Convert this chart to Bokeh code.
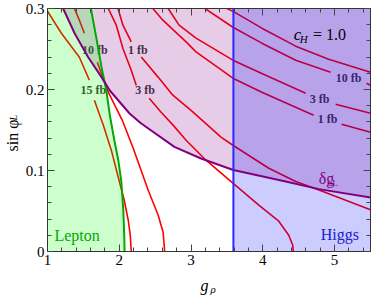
import numpy as np
from bokeh.plotting import figure
from bokeh.models import ColumnDataSource, FixedTicker, LinearAxis, Label, Range1d
from bokeh.core.properties import value
from bokeh.embed import file_html
from bokeh.resources import INLINE

nan = float("nan")

# ---------------- data ----------------
X_MIN, X_MAX = 1.0, 5.5
Y_MIN, Y_MAX = 0.0, 0.3
X_TICKS = [1, 2, 3, 4, 5]
Y_TICKS = [0.0, 0.1, 0.2, 0.3]
Y_TICK_LABELS = ["0", "0.1", "0.2", "0.3"]

# Higgs bound (vertical)
HIGGS_G = 3.59

# Lepton bound (green)
lepton_x = [1.604, 1.681, 1.750, 1.819, 1.868, 1.931, 1.986, 2.028, 2.056, 2.069, 2.074]
lepton_y = [0.300, 0.2634, 0.2288, 0.1991, 0.1683, 0.1374, 0.1127, 0.0868, 0.0510, 0.0201, 0.0]

# delta g_uL bound (purple)
dg_x = [1.218, 1.379, 1.565, 1.750, 1.865, 2.143, 2.306, 2.768, 3.139, 3.588, 4.319, 4.782, 5.500]
dg_y = [0.300, 0.2691, 0.2402, 0.2156, 0.1991, 0.1704, 0.1580, 0.1291, 0.1148, 0.1007, 0.0864, 0.0770, 0.0667]

# cross-section contours, left family (nan = label gap)
c15_x = [1.0, 1.194, 1.444, 1.583, nan, 1.653, 1.778, 1.889, 2.0, 2.069, 2.125, 2.153, 2.167]
c15_y = [0.2967, 0.2695, 0.2398, 0.2115, nan, 0.1868, 0.1559, 0.1251, 0.0868, 0.0633, 0.0386, 0.0201, 0.0]

c10a_x = [1.375, 1.444, 1.514, nan, 1.694, 1.847, 2.042, 2.194, 2.403, 2.542, 2.611, 2.632]
c10a_y = [0.300, 0.2856, 0.2695, nan, 0.2337, 0.1967, 0.1620, 0.1275, 0.0757, 0.0448, 0.0238, 0.0]

c3a_x = [1.847, 1.958, 2.051, 2.167, 2.236, nan, 2.417, 2.583, 2.750, 2.931, 3.208, 3.583, 3.944, 4.222, 4.361, 4.417, 4.424]
c3a_y = [0.300, 0.2794, 0.2506, 0.2238, 0.2053, nan, 0.1893, 0.1720, 0.1560, 0.1374, 0.1127, 0.0843, 0.0572, 0.0374, 0.0201, 0.0078, 0.0]

c1a_x = [1.982, 2.051, 2.167, nan, 2.306, 2.538, 2.746, 3.024, 3.417, 3.583, 4.083, 4.458, 4.782, 5.500]
c1a_y = [0.300, 0.2794, 0.2588, nan, 0.2402, 0.2156, 0.1930, 0.1723, 0.1411, 0.1312, 0.1028, 0.0864, 0.0760, 0.0514]

# right family
c30b_x = [3.500, 3.597, 3.986, 4.458, 4.917, 5.500]
c30b_y = [0.300, 0.2958, 0.2757, 0.2535, 0.2374, 0.2214]

c10b_x = [3.194, 3.583, 3.986, 4.458, 4.944, nan, 5.444, 5.500]
c10b_y = [0.300, 0.2769, 0.2572, 0.2362, 0.2214, nan, 0.2077, 0.2053]

c3b_x = [2.681, 2.833, 3.069, 3.583, 3.986, 4.597, nan, 5.014, 5.500]
c3b_y = [0.300, 0.2794, 0.2634, 0.2362, 0.2198, 0.1954, nan, 0.1818, 0.1707]

c1b_x = [2.468, 2.607, 2.931, 3.069, 3.583, 3.986, 4.708, nan, 5.097, 5.500]
c1b_y = [0.300, 0.2856, 0.2588, 0.2464, 0.2140, 0.1967, 0.1683, nan, 0.1572, 0.1473]

contour_label_text = ["15 fb", "10 fb", "3 fb", "1 fb", "10 fb", "3 fb", "1 fb"]
contour_label_x = [1.639, 1.660, 2.361, 2.257, 5.194, 4.792, 4.903]
contour_label_y = [0.199, 0.2485, 0.199, 0.2485, 0.2146, 0.1886, 0.164]

# ---------------- figure ----------------
SERIF = "Liberation Serif"

p = figure(width=374, height=296,
           x_range=Range1d(X_MIN, X_MAX), y_range=Range1d(Y_MIN, Y_MAX),
           output_backend="svg", toolbar_location=None,
           min_border_left=46, min_border_right=4, min_border_top=8, min_border_bottom=45)
p.xgrid.visible = False
p.ygrid.visible = False
p.outline_line_color = "#333333"
p.background_fill_color = "white"
p.border_fill_color = "white"

x_minor = [round(v, 2) for v in np.arange(X_MIN, X_MAX + 1e-9, 0.2) if abs(v - round(v)) > 1e-6]
y_minor = [round(v, 3) for v in np.arange(Y_MIN, Y_MAX + 1e-9, 0.02)]
xt = FixedTicker(ticks=X_TICKS, minor_ticks=x_minor)
yt = FixedTicker(ticks=Y_TICKS, minor_ticks=y_minor)

def style_axis(ax, show_labels=True):
    ax.axis_line_color = "#333333"
    ax.major_tick_in = 7
    ax.major_tick_out = 0
    ax.minor_tick_in = 4
    ax.minor_tick_out = 0
    ax.major_tick_line_color = "#444444"
    ax.minor_tick_line_color = "#444444"
    ax.major_label_text_font = SERIF
    ax.major_label_text_color = "black"
    if show_labels:
        ax.major_label_text_font_size = "15px"
        ax.major_label_standoff = 3
    else:
        ax.major_label_text_font_size = "1px"
        ax.major_label_standoff = 0

p.xaxis.ticker = xt
p.yaxis.ticker = yt
p.yaxis.major_label_overrides = {t: l for t, l in zip(Y_TICKS, Y_TICK_LABELS)}
style_axis(p.xaxis[0])
style_axis(p.yaxis[0])

top_ax = LinearAxis(ticker=xt)
style_axis(top_ax, show_labels=False)
top_ax.major_label_overrides = {t: "" for t in X_TICKS}
p.add_layout(top_ax, "above")
right_ax = LinearAxis(ticker=yt)
style_axis(right_ax, show_labels=False)
right_ax.major_label_overrides = {t: "" for t in Y_TICKS}
p.add_layout(right_ax, "right")

# contours (drawn under the shaded regions)
RED = "#ff0000"
for cx, cy in [(c15_x, c15_y), (c10a_x, c10a_y), (c3a_x, c3a_y), (c1a_x, c1a_y),
               (c30b_x, c30b_y), (c10b_x, c10b_y), (c3b_x, c3b_y), (c1b_x, c1b_y)]:
    p.line(np.array(cx), np.array(cy), line_color=RED, line_width=1.6)

lab_src = ColumnDataSource(dict(x=contour_label_x, y=contour_label_y, t=contour_label_text))
p.text(x="x", y="y", text="t", source=lab_src, text_font=value(SERIF), text_font_style="bold",
       text_font_size="12px", text_color="#3a3a3a", text_align="center", text_baseline="middle")

# shaded regions
p.varea(x=dg_x, y1=dg_y, y2=Y_MAX, fill_color="#800080", fill_alpha=0.2)
p.harea(y=lepton_y, x1=X_MIN, x2=lepton_x, fill_color="#00ff00", fill_alpha=0.2)
p.quad(left=HIGGS_G, right=X_MAX, bottom=Y_MIN, top=Y_MAX, fill_color="#0000ff",
       fill_alpha=0.2, line_color=None)

# boundaries
p.line(lepton_x, lepton_y, line_color="#00aa00", line_width=2)
p.line(dg_x, dg_y, line_color="#800080", line_width=2)
p.segment(x0=HIGGS_G, y0=Y_MIN, x1=HIGGS_G, y1=Y_MAX, line_color="#2a2aff", line_width=2)

# region labels
def txt(x, y, s, size, color, style="normal", align="left"):
    p.text(x=[x], y=[y], text=[s], text_font=value(SERIF), text_font_size=size,
           text_color=color, text_font_style=style, text_align=align, text_baseline="alphabetic")

txt(1.097, 0.020, "Lepton", "16px", "#00aa00")
txt(4.806, 0.021, "Higgs", "16px", "#2020cc")
txt(4.778, 0.090, "δg", "16px", "#800080")
txt(4.905, 0.0845, "uL", "9px", "#800080")
txt(4.431, 0.268, "c", "17px", "black", style="italic")
txt(4.514, 0.2625, "H", "11px", "black", style="italic")
txt(4.700, 0.268, "= 1.0", "16px", "black")

# axis titles (canvas pixel units, placed in side panels so they are not clipped)
def canvas_label(side, x, y, s, size, style="normal", angle=0.0, align="left"):
    p.add_layout(Label(x=x, y=y, x_units="canvas", y_units="canvas", text=s,
                       text_font=SERIF, text_font_style=style, text_font_size=size,
                       text_color="black", angle=angle, text_align=align,
                       text_baseline="alphabetic"), side)

canvas_label("below", 200, 285, "g", "16px", style="italic")
canvas_label("left", 210, 288, "ρ", "11px", style="italic")
canvas_label("left", 12, 151, "sin φ", "16px", angle=np.pi / 2, align="left")
canvas_label("below", 13, 120, "L", "10px", style="italic", angle=np.pi / 2, align="left")

open("out.html", "w").write(file_html(p, INLINE))
